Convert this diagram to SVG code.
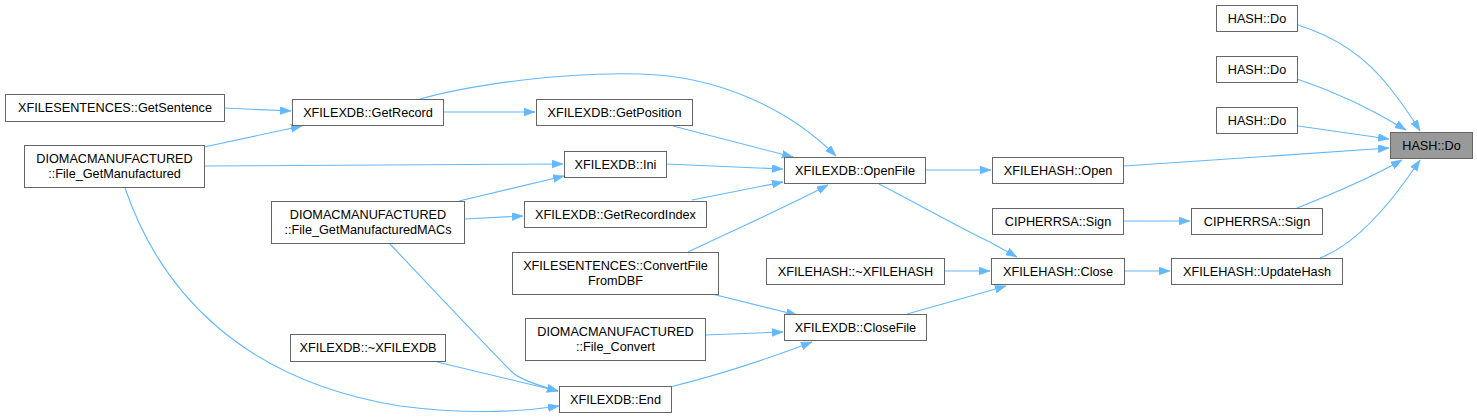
<svg xmlns="http://www.w3.org/2000/svg" width="1477" height="420" viewBox="0 0 1477 420">
<style>
.n rect{fill:#fff;stroke:#666;stroke-width:1}
.n.t rect{fill:#999;stroke:#666}
.n text{font-family:"Liberation Sans",Arial,sans-serif;font-size:12.7px;fill:#000;text-anchor:middle}
.e path{fill:none;stroke:#63b8ff;stroke-width:1.1;marker-end:url(#ah)}
</style>
<defs>
<marker id="ah" markerUnits="userSpaceOnUse" markerWidth="12" markerHeight="10" refX="11" refY="4" orient="auto">
<path d="M0,0 L11,4 L0,8 z" fill="#63b8ff" stroke="#63b8ff" stroke-width="0.5"/>
</marker>
</defs>
<rect width="1477" height="420" fill="#fff"/>
<g class="e">
<path d="M1298,25 C1340,38 1370,62 1390,88 C1402,103 1412,118 1420,131"/>
<path d="M1297,79 C1330,90 1370,108 1406,130"/>
<path d="M1298,126 L1389,139"/>
<path d="M1124,166 L1389,148"/>
<path d="M1297,208 C1330,195 1370,178 1402,160"/>
<path d="M1320,258 C1355,245 1390,205 1420,160"/>
<path d="M1123,221 L1190,221"/>
<path d="M1124,271 L1170,271"/>
<path d="M925,170 L991,170"/>
<path d="M879,184 C920,205 960,228 990,242 C1000,248 1010,253 1017,257"/>
<path d="M944,271 L990,271"/>
<path d="M907,314 C935,306 975,295 1006,286"/>
<path d="M420,99 C470,85 560,72 640,74 C720,76 790,110 836,156"/>
<path d="M673,126 L793,157"/>
<path d="M666,164 L783,169"/>
<path d="M692,200 L783,182"/>
<path d="M688,252 C730,232 790,205 828,185"/>
<path d="M712,294 L797,315"/>
<path d="M705,335 L783,332"/>
<path d="M670,387 C710,377 765,360 812,342"/>
<path d="M443,112 L535,112"/>
<path d="M224,108 L291,111"/>
<path d="M204,147 L302,126"/>
<path d="M204,166 L563,164"/>
<path d="M125,188 C160,290 240,380 400,406 C470,415 520,412 559,406"/>
<path d="M459,201 L564,176"/>
<path d="M464,219 L523,216"/>
<path d="M390,244 C440,297 490,350 512,372 C520,380 540,386 558,391"/>
<path d="M437,362 L558,391"/>
</g>
<g id="n_hashdo" class="n t"><rect x="1390.5" y="132.5" width="82" height="26"/><text x="1431.5" y="150">HASH::Do</text></g>
<g id="n_hashdo1" class="n"><rect x="1216.5" y="5.5" width="81" height="26"/><text x="1257" y="23">HASH::Do</text></g>
<g id="n_hashdo2" class="n"><rect x="1216.5" y="56.5" width="81" height="26"/><text x="1257" y="74">HASH::Do</text></g>
<g id="n_hashdo3" class="n"><rect x="1216.5" y="107.5" width="81" height="26"/><text x="1257" y="125">HASH::Do</text></g>
<g id="n_signr" class="n"><rect x="1191.5" y="208.5" width="131" height="26"/><text x="1257" y="226">CIPHERRSA::Sign</text></g>
<g id="n_update" class="n"><rect x="1171.5" y="258.5" width="171" height="26"/><text x="1257" y="276">XFILEHASH::UpdateHash</text></g>
<g id="n_open" class="n"><rect x="992.5" y="157.5" width="131" height="26"/><text x="1058" y="175">XFILEHASH::Open</text></g>
<g id="n_signl" class="n"><rect x="992.5" y="208.5" width="131" height="26"/><text x="1058" y="226">CIPHERRSA::Sign</text></g>
<g id="n_close" class="n"><rect x="991.5" y="258.5" width="133" height="26"/><text x="1058" y="276">XFILEHASH::Close</text></g>
<g id="n_dtorhash" class="n"><rect x="766.5" y="258.5" width="178" height="26"/><text x="855.5" y="276">XFILEHASH::~XFILEHASH</text></g>
<g id="n_openfile" class="n"><rect x="784.5" y="157.5" width="141" height="26"/><text x="855" y="175">XFILEXDB::OpenFile</text></g>
<g id="n_closefile" class="n"><rect x="784.5" y="314.5" width="142" height="26"/><text x="855.5" y="332">XFILEXDB::CloseFile</text></g>
<g id="n_getposition" class="n"><rect x="536.5" y="99.5" width="156" height="26"/><text x="614.5" y="117">XFILEXDB::GetPosition</text></g>
<g id="n_ini" class="n"><rect x="564.5" y="151.5" width="102" height="26"/><text x="615.5" y="169">XFILEXDB::Ini</text></g>
<g id="n_getrecordindex" class="n"><rect x="524.5" y="201.5" width="182" height="26"/><text x="615.5" y="219">XFILEXDB::GetRecordIndex</text></g>
<g id="n_convertdbf" class="n"><rect x="512.5" y="252.5" width="206" height="42"/><text x="615.5" y="270">XFILESENTENCES::ConvertFile</text><text x="615.5" y="285">FromDBF</text></g>
<g id="n_fileconvert" class="n"><rect x="525.5" y="318.5" width="180" height="42"/><text x="615.5" y="336">DIOMACMANUFACTURED</text><text x="615.5" y="351">::File_Convert</text></g>
<g id="n_end" class="n"><rect x="559.5" y="386.5" width="112" height="26"/><text x="615.5" y="404">XFILEXDB::End</text></g>
<g id="n_getrecord" class="n"><rect x="292.5" y="99.5" width="151" height="26"/><text x="368" y="117">XFILEXDB::GetRecord</text></g>
<g id="n_macs" class="n"><rect x="271.5" y="201.5" width="193" height="42"/><text x="368" y="219">DIOMACMANUFACTURED</text><text x="368" y="234">::File_GetManufacturedMACs</text></g>
<g id="n_dtorxdb" class="n"><rect x="290.5" y="334.5" width="155" height="27"/><text x="368" y="352">XFILEXDB::~XFILEXDB</text></g>
<g id="n_getsentence" class="n"><rect x="5.5" y="94.5" width="219" height="27"/><text x="115" y="112">XFILESENTENCES::GetSentence</text></g>
<g id="n_getmanuf" class="n"><rect x="24.5" y="145.5" width="180" height="42"/><text x="114.5" y="163">DIOMACMANUFACTURED</text><text x="114.5" y="178">::File_GetManufactured</text></g>
</svg>
